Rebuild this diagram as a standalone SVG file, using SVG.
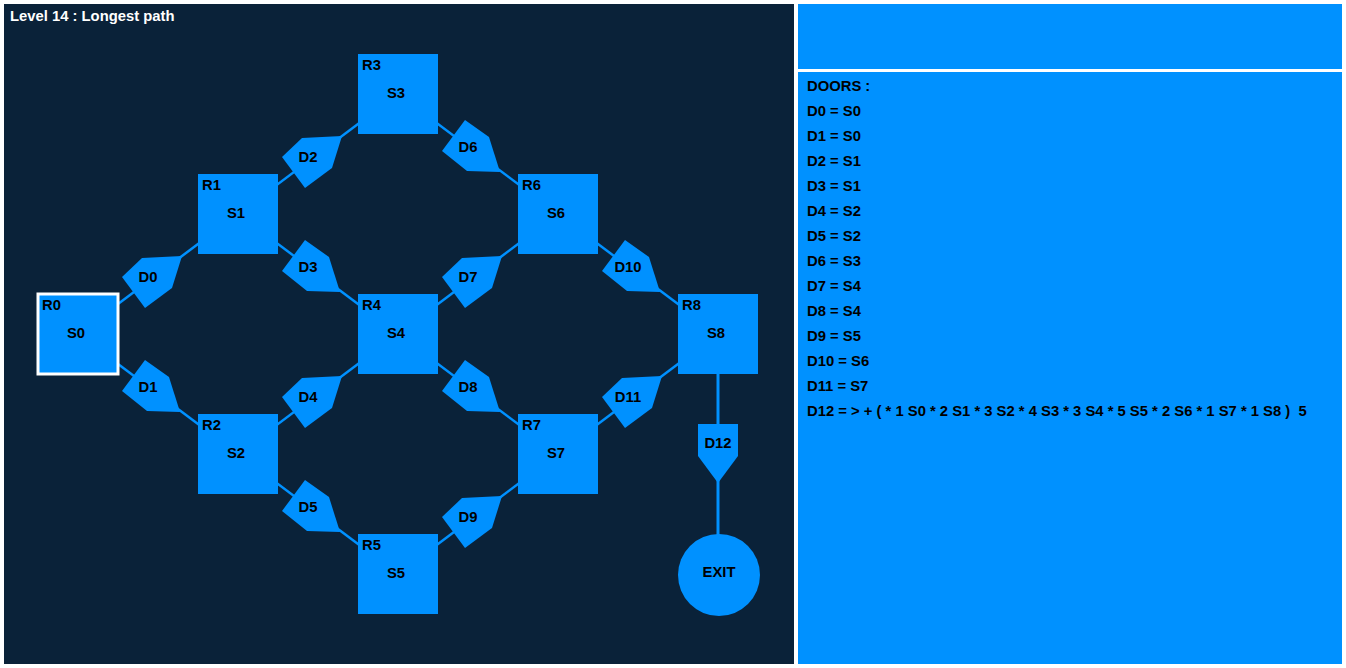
<svg xmlns="http://www.w3.org/2000/svg" width="1346" height="668" viewBox="0 0 1346 668">
<defs>
<style>
text{font-family:"Liberation Sans",Arial,sans-serif;font-weight:bold;font-size:14.8px;fill:#000}
.room{fill:#0091ff}
.door{fill:#0091ff}
.c{stroke:#0091ff;stroke-width:2.5;fill:none}
.m{text-anchor:middle}
</style>
<polygon id="up" points="122,277 142,258 182,256 172,288 145,308"/>
<polygon id="dn" points="122,391 147,411 180,412 169,377 145,360"/>
</defs>
<rect x="0" y="0" width="1346" height="668" fill="#ffffff"/>
<rect x="4" y="4" width="790" height="660" fill="#0a2239"/>
<rect x="798" y="4" width="544" height="65" fill="#0091ff"/>
<rect x="798" y="72" width="544" height="592" fill="#0091ff"/>
<text x="10" y="21" style="fill:#fff">Level 14 : Longest path</text>

<g id="connectors">
<line class="c" x1="78" y1="334" x2="238" y2="214"/>
<line class="c" x1="78" y1="334" x2="238" y2="454"/>
<line class="c" x1="238" y1="214" x2="398" y2="94"/>
<line class="c" x1="238" y1="214" x2="398" y2="334"/>
<line class="c" x1="238" y1="454" x2="398" y2="334"/>
<line class="c" x1="238" y1="454" x2="398" y2="574"/>
<line class="c" x1="398" y1="94" x2="558" y2="214"/>
<line class="c" x1="398" y1="334" x2="558" y2="214"/>
<line class="c" x1="398" y1="334" x2="558" y2="454"/>
<line class="c" x1="398" y1="574" x2="558" y2="454"/>
<line class="c" x1="558" y1="214" x2="718" y2="334"/>
<line class="c" x1="558" y1="454" x2="718" y2="334"/>
<line x1="718" y1="334" x2="718" y2="540" stroke="#0091ff" stroke-width="3"/>
</g>

<g id="R0"><rect x="38" y="294" width="80" height="80" class="room" stroke="#fff" stroke-width="3"/><text x="42" y="310">R0</text><text class="m" x="76" y="338">S0</text></g>
<g id="R1"><rect x="198" y="174" width="80" height="80" class="room"/><text x="202" y="190">R1</text><text class="m" x="236" y="218">S1</text></g>
<g id="R2"><rect x="198" y="414" width="80" height="80" class="room"/><text x="202" y="430">R2</text><text class="m" x="236" y="458">S2</text></g>
<g id="R3"><rect x="358" y="54" width="80" height="80" class="room"/><text x="362" y="70">R3</text><text class="m" x="396" y="98">S3</text></g>
<g id="R4"><rect x="358" y="294" width="80" height="80" class="room"/><text x="362" y="310">R4</text><text class="m" x="396" y="338">S4</text></g>
<g id="R5"><rect x="358" y="534" width="80" height="80" class="room"/><text x="362" y="550">R5</text><text class="m" x="396" y="578">S5</text></g>
<g id="R6"><rect x="518" y="174" width="80" height="80" class="room"/><text x="522" y="190">R6</text><text class="m" x="556" y="218">S6</text></g>
<g id="R7"><rect x="518" y="414" width="80" height="80" class="room"/><text x="522" y="430">R7</text><text class="m" x="556" y="458">S7</text></g>
<g id="R8"><rect x="678" y="294" width="80" height="80" class="room"/><text x="682" y="310">R8</text><text class="m" x="716" y="338">S8</text></g>

<g id="D0"><use href="#up" class="door"/><text class="m" x="148" y="282">D0</text></g>
<g id="D1"><use href="#dn" class="door"/><text class="m" x="148" y="392">D1</text></g>
<g id="D2" transform="translate(160,-120)"><use href="#up" class="door"/><text class="m" x="148" y="282">D2</text></g>
<g id="D3" transform="translate(160,-120)"><use href="#dn" class="door"/><text class="m" x="148" y="392">D3</text></g>
<g id="D4" transform="translate(160,120)"><use href="#up" class="door"/><text class="m" x="148" y="282">D4</text></g>
<g id="D5" transform="translate(160,120)"><use href="#dn" class="door"/><text class="m" x="148" y="392">D5</text></g>
<g id="D6" transform="translate(320,-240)"><use href="#dn" class="door"/><text class="m" x="148" y="392">D6</text></g>
<g id="D7" transform="translate(320,0)"><use href="#up" class="door"/><text class="m" x="148" y="282">D7</text></g>
<g id="D8" transform="translate(320,0)"><use href="#dn" class="door"/><text class="m" x="148" y="392">D8</text></g>
<g id="D9" transform="translate(320,240)"><use href="#up" class="door"/><text class="m" x="148" y="282">D9</text></g>
<g id="D10" transform="translate(480,-120)"><use href="#dn" class="door"/><text class="m" x="148" y="392">D10</text></g>
<g id="D11" transform="translate(480,120)"><use href="#up" class="door"/><text class="m" x="148" y="282">D11</text></g>
<g id="D12"><polygon class="door" points="698,424 738,424 738,456 718,483 698,456"/><text class="m" x="718" y="448">D12</text></g>

<g id="EXIT"><circle cx="719" cy="575" r="41" fill="#0091ff"/><text class="m" x="719" y="577">EXIT</text></g>

<g id="doors-list">
<text x="807" y="91">DOORS :</text>
<text x="807" y="116">D0 = S0</text>
<text x="807" y="141">D1 = S0</text>
<text x="807" y="166">D2 = S1</text>
<text x="807" y="191">D3 = S1</text>
<text x="807" y="216">D4 = S2</text>
<text x="807" y="241">D5 = S2</text>
<text x="807" y="266">D6 = S3</text>
<text x="807" y="291">D7 = S4</text>
<text x="807" y="316">D8 = S4</text>
<text x="807" y="341">D9 = S5</text>
<text x="807" y="366">D10 = S6</text>
<text x="807" y="391">D11 = S7</text>
<text x="807" y="416" xml:space="preserve">D12 = &gt; + ( * 1 S0 * 2 S1 * 3 S2 * 4 S3 * 3 S4 * 5 S5 * 2 S6 * 1 S7 * 1 S8 )  5</text>
</g>
</svg>
